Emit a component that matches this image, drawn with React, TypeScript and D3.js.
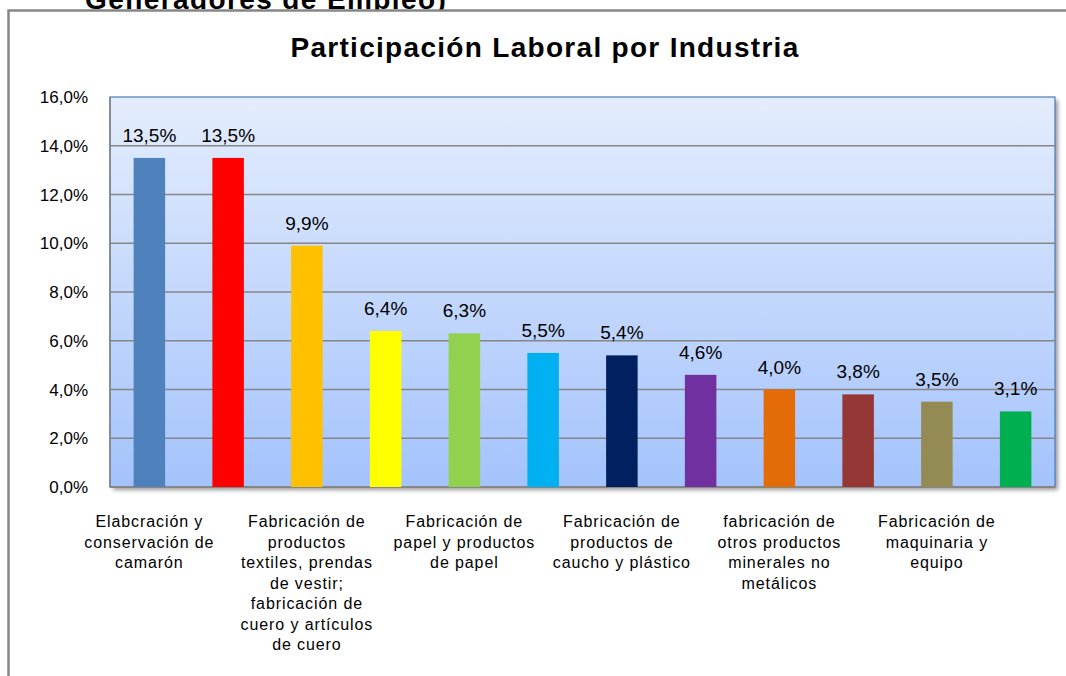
import { useEffect, useRef } from "react";
import * as d3 from "d3";

// Industry names (Excel only prints every second one, the rest stay blank)
const categoryLines: string[][] = [
  ["Elabcración y", "conservación de", "camarón"],
  [],
  ["Fabricación de", "productos", "textiles, prendas", "de vestir;", "fabricación de", "cuero y artículos", "de cuero"],
  [],
  ["Fabricación de", "papel y productos", "de papel"],
  [],
  ["Fabricación de", "productos de", "caucho y plástico"],
  [],
  ["fabricación de", "otros productos", "minerales no", "metálicos"],
  [],
  ["Fabricación de", "maquinaria y", "equipo"],
  [],
];
const categoryIds = categoryLines.map((_, i) => `ind${i + 1}`);
const shares = [13.5, 13.5, 9.9, 6.4, 6.3, 5.5, 5.4, 4.6, 4.0, 3.8, 3.5, 3.1];
const barColors = [
  "#4F81BD", "#FF0000", "#FFC000", "#FFFF00", "#92D050", "#00B0F0",
  "#002060", "#7030A0", "#E36C09", "#953735", "#948A54", "#00B050",
];
const yTicks = [0, 2, 4, 6, 8, 10, 12, 14, 16];

const W = 1066;
const H = 676;
const FONT = "'Liberation Sans', Arial, sans-serif";

const fmt = (v: number) => v.toFixed(1).replace(".", ",") + "%";

export default function App() {
  const svgRef = useRef<SVGSVGElement>(null);

  useEffect(() => {
    if (!svgRef.current) return;
    const svg = d3.select(svgRef.current);
    svg.selectAll("*").remove();

    const plot = { left: 110, right: 1055, top: 97, bottom: 487 };

    const x = d3
      .scaleBand<string>()
      .domain(categoryIds)
      .range([plot.left, plot.right])
      .paddingInner(0.6)
      .paddingOuter(0.3);

    const y = d3.scaleLinear().domain([0, 16]).range([plot.bottom, plot.top]);

    const defs = svg.append("defs");
    const grad = defs
      .append("linearGradient")
      .attr("id", "plot-bg")
      .attr("x1", "0%")
      .attr("x2", "0%")
      .attr("y1", "0%")
      .attr("y2", "100%");
    grad.append("stop").attr("offset", "0%").attr("stop-color", "#E4EDFD");
    grad.append("stop").attr("offset", "100%").attr("stop-color", "#A4C3FC");

    const shadow = defs.append("filter").attr("id", "shadow").attr("x", "-5%").attr("y", "-5%").attr("width", "110%").attr("height", "110%");
    shadow.append("feGaussianBlur").attr("stdDeviation", 2);

    // cut-off heading above the chart frame
    svg
      .append("text")
      .attr("x", 85)
      .attr("y", 9)
      .attr("font-family", FONT)
      .attr("font-weight", "bold")
      .attr("font-size", 28)
      .attr("letter-spacing", 1.4)
      .attr("fill", "#000")
      .text("Generadores de Empleo)");

    // chart frame
    svg
      .append("rect")
      .attr("x", 8.5)
      .attr("y", 10.5)
      .attr("width", W + 20)
      .attr("height", H + 20)
      .attr("fill", "#fff")
      .attr("stroke", "#868686")
      .attr("stroke-width", 2.5);

    // title
    svg
      .append("text")
      .attr("x", 545)
      .attr("y", 57)
      .attr("text-anchor", "middle")
      .attr("font-family", FONT)
      .attr("font-weight", "bold")
      .attr("font-size", 28)
      .attr("letter-spacing", 1.3)
      .attr("fill", "#000")
      .text("Participación Laboral por Industria");

    // plot area shadow + background
    svg
      .append("rect")
      .attr("x", plot.left + 3)
      .attr("y", plot.top + 3)
      .attr("width", plot.right - plot.left)
      .attr("height", plot.bottom - plot.top)
      .attr("fill", "#9a9a9a")
      .attr("filter", "url(#shadow)");
    svg
      .append("rect")
      .attr("x", plot.left)
      .attr("y", plot.top)
      .attr("width", plot.right - plot.left)
      .attr("height", plot.bottom - plot.top)
      .attr("fill", "url(#plot-bg)")
      .attr("stroke", "#4A7EBB")
      .attr("stroke-width", 1.2);

    // gridlines
    svg
      .append("g")
      .selectAll("line")
      .data(yTicks.filter((t) => t > 0 && t < 16))
      .enter()
      .append("line")
      .attr("x1", plot.left)
      .attr("x2", plot.right)
      .attr("y1", (d) => y(d))
      .attr("y2", (d) => y(d))
      .attr("stroke", "#868686")
      .attr("stroke-width", 1.6);

    // axis lines
    svg
      .append("line")
      .attr("x1", plot.left)
      .attr("x2", plot.left)
      .attr("y1", plot.top)
      .attr("y2", plot.bottom)
      .attr("stroke", "#868686")
      .attr("stroke-width", 1.6);
    svg
      .append("line")
      .attr("x1", plot.left)
      .attr("x2", plot.right)
      .attr("y1", plot.bottom)
      .attr("y2", plot.bottom)
      .attr("stroke", "#868686")
      .attr("stroke-width", 2);

    // y tick labels
    svg
      .append("g")
      .selectAll("text")
      .data(yTicks)
      .enter()
      .append("text")
      .attr("x", 88)
      .attr("y", (d) => y(d) + 6)
      .attr("text-anchor", "end")
      .attr("font-family", FONT)
      .attr("font-size", 17)
      .attr("fill", "#000")
      .text((d) => fmt(d));

    // bars
    svg
      .append("g")
      .selectAll("rect")
      .data(shares)
      .enter()
      .append("rect")
      .attr("x", (_, i) => x(categoryIds[i])!)
      .attr("y", (d) => y(d))
      .attr("width", x.bandwidth())
      .attr("height", (d) => plot.bottom - y(d))
      .attr("fill", (_, i) => barColors[i]);

    // value labels
    svg
      .append("g")
      .selectAll("text")
      .data(shares)
      .enter()
      .append("text")
      .attr("x", (_, i) => x(categoryIds[i])! + x.bandwidth() / 2)
      .attr("y", (d) => y(d) - 16)
      .attr("text-anchor", "middle")
      .attr("font-family", FONT)
      .attr("font-size", 19)
      .attr("fill", "#000")
      .text((d) => fmt(d));

    // category labels
    const cat = svg
      .append("g")
      .selectAll("text")
      .data(categoryLines)
      .enter()
      .append("text")
      .attr("text-anchor", "middle")
      .attr("font-family", FONT)
      .attr("font-size", 16)
      .attr("letter-spacing", 0.9)
      .attr("fill", "#000");
    cat.each(function (lines, i) {
      const cx = x(categoryIds[i])! + x.bandwidth() / 2;
      d3.select(this)
        .selectAll("tspan")
        .data(lines)
        .enter()
        .append("tspan")
        .attr("x", cx)
        .attr("y", (_, j) => 527 + j * 20.5)
        .text((l) => l);
    });
  }, []);

  return (
    <div style={{ position: "absolute", left: 0, top: 0, width: W, height: H, overflow: "hidden", background: "#fff" }}>
      <svg ref={svgRef} width={W} height={H} viewBox={`0 0 ${W} ${H}`} />
    </div>
  );
}
